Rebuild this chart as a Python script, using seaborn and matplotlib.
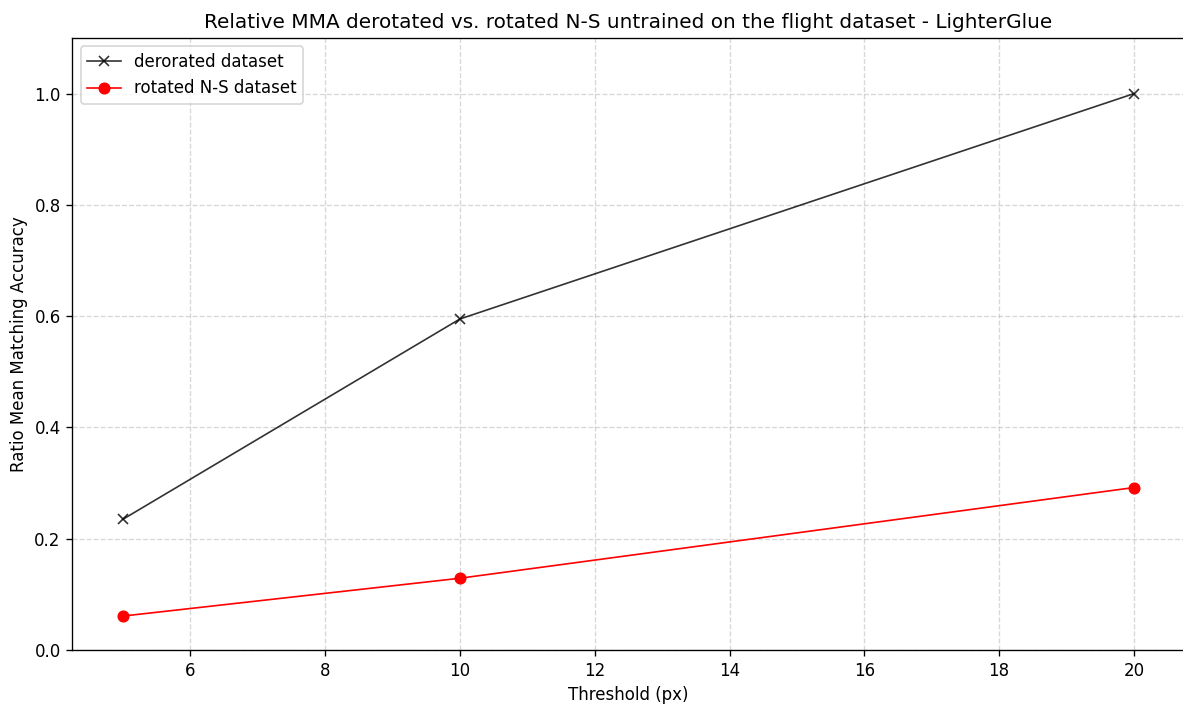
import matplotlib
matplotlib.use("Agg")
import matplotlib.pyplot as plt
import seaborn as sns
import pandas as pd

thresholds = [5, 10, 20]
derotated_mma = [0.235, 0.595, 1.0]
rotated_ns_mma = [0.061, 0.129, 0.292]

df = pd.concat([
    pd.DataFrame({"threshold": thresholds, "mma": derotated_mma, "series": "derorated dataset"}),
    pd.DataFrame({"threshold": thresholds, "mma": rotated_ns_mma, "series": "rotated N-S dataset"}),
])

DPI = 120
W, H = 1183, 704
fig = plt.figure(figsize=(W / DPI, H / DPI), dpi=DPI)
ax = fig.add_axes([72.4 / W, 1 - 650 / H, (1184.5 - 72.4) / W, (650 - 38) / H])

sns.lineplot(data=df[df.series == "derorated dataset"], x="threshold", y="mma",
             color="black", marker="x", markersize=6.5, linewidth=1, alpha=0.8,
             markeredgecolor="black", markeredgewidth=1.0,
             label="derorated dataset", ax=ax)
sns.lineplot(data=df[df.series == "rotated N-S dataset"], x="threshold", y="mma",
             color="red", marker="o", markersize=6.5, linewidth=1,
             markeredgecolor="red", label="rotated N-S dataset", ax=ax)

ax.set_ylim(0, 1.1)
ax.set_xlim(4.25, 20.75)
ax.grid(True, linestyle="--", color="#b0b0b0", alpha=0.5)
ax.set_xlabel("Threshold (px)")
ax.set_ylabel("Ratio Mean Matching Accuracy")
ax.set_title("Relative MMA derotated vs. rotated N-S untrained on the flight dataset - LighterGlue", fontsize=12)
ax.legend(loc="upper left")

fig.savefig("out.png", dpi=DPI)
